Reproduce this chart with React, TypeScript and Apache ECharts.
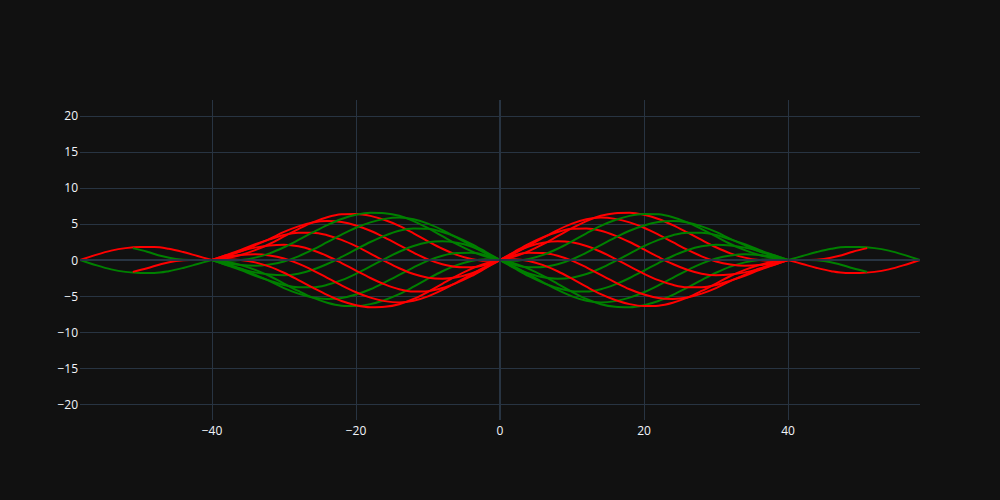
import React, { useEffect, useRef } from "react";
import * as echarts from "echarts";

// x positions
const X_MAIN = [-40, -38, -36, -34, -32, -30, -28, -26, -24, -22, -20, -18, -16, -14, -12, -10, -8, -6, -4, -2, 0,
  2, 4, 6, 8, 10, 12, 14, 16, 18, 20, 22, 24, 26, 28, 30, 32, 34, 36, 38, 40];
const X_OUT_L = [-58.3, -56, -54, -52, -50, -48, -46, -44, -42, -40];
const X_OUT_R = [40, 42, 44, 46, 48, 50, 52, 54, 56, 58.3];
const X_SHORT_L = [-51, -49, -47, -45, -43, -40];
const X_SHORT_R = [40, 43, 45, 47, 49, 51];

// green curves, central part (x = -40 .. 40)
const greenA = [0, -0.24, -0.69, -1.37, -2.22, -3.27, -4.3, -5.23, -5.93, -6.34, -6.4, -6.13, -5.55, -4.74, -3.71, -2.6, -1.56, -0.71, -0.13, 0.12, 0,
  -0.47, -1.24, -2.2, -3.3, -4.42, -5.41, -6.14, -6.5, -6.56, -6.28, -5.7, -4.85, -3.84, -2.78, -1.77, -0.92, -0.33, 0.01, 0.12, 0];
const greenB = [0, -0.54, -1.21, -2.05, -2.93, -3.9, -4.67, -5.21, -5.41, -5.28, -4.8, -4.06, -3.11, -2.08, -1.02, -0.09, 0.6, 0.97, 1.01, 0.67, 0,
  -0.93, -2.01, -3.1, -4.16, -5.05, -5.66, -5.9, -5.71, -5.23, -4.48, -3.53, -2.48, -1.43, -0.51, 0.2, 0.63, 0.8, 0.71, 0.45, 0];
const greenC = [0, -0.69, -1.4, -2.18, -2.86, -3.47, -3.79, -3.79, -3.45, -2.8, -1.92, -0.9, 0.16, 1.15, 1.95, 2.45, 2.6, 2.39, 1.88, 1.05, 0,
  -1.14, -2.25, -3.17, -3.9, -4.33, -4.39, -4.07, -3.39, -2.5, -1.48, -0.42, 0.56, 1.36, 1.9, 2.12, 2.02, 1.72, 1.22, 0.66, 0];
const greenD = [0, -0.66, -1.22, -1.72, -2.02, -2.12, -1.9, -1.36, -0.56, 0.42, 1.48, 2.5, 3.39, 4.07, 4.39, 4.33, 3.9, 3.17, 2.25, 1.14, 0,
  -1.05, -1.88, -2.39, -2.6, -2.45, -1.95, -1.15, -0.16, 0.9, 1.92, 2.8, 3.45, 3.79, 3.79, 3.47, 2.86, 2.18, 1.4, 0.69, 0];
const greenE = [0, -0.45, -0.71, -0.8, -0.63, -0.2, 0.51, 1.43, 2.48, 3.53, 4.48, 5.23, 5.71, 5.9, 5.66, 5.05, 4.16, 3.1, 2.01, 0.93, 0,
  -0.67, -1.01, -0.97, -0.6, 0.09, 1.02, 2.08, 3.11, 4.06, 4.8, 5.28, 5.41, 5.21, 4.67, 3.9, 2.93, 2.05, 1.21, 0.54, 0];
const greenF = [0, -0.12, -0.01, 0.33, 0.92, 1.77, 2.78, 3.84, 4.85, 5.7, 6.28, 6.56, 6.5, 6.14, 5.41, 4.42, 3.3, 2.2, 1.24, 0.47, 0,
  -0.12, 0.13, 0.71, 1.56, 2.6, 3.71, 4.74, 5.55, 6.13, 6.4, 6.34, 5.93, 5.23, 4.3, 3.27, 2.22, 1.37, 0.69, 0.24, 0];

// red curves, central part (x = -40 .. 40)
const redA = [0, 0.24, 0.69, 1.37, 2.22, 3.27, 4.3, 5.23, 5.93, 6.34, 6.4, 6.13, 5.55, 4.74, 3.71, 2.6, 1.56, 0.71, 0.13, -0.12, 0,
  0.47, 1.24, 2.2, 3.3, 4.42, 5.41, 6.14, 6.5, 6.56, 6.28, 5.7, 4.85, 3.84, 2.78, 1.77, 0.92, 0.33, -0.01, -0.12, 0];
const redB = [0, 0.54, 1.21, 2.05, 2.93, 3.9, 4.67, 5.21, 5.41, 5.28, 4.8, 4.06, 3.11, 2.08, 1.02, 0.09, -0.6, -0.97, -1.01, -0.67, 0,
  0.93, 2.01, 3.1, 4.16, 5.05, 5.66, 5.9, 5.71, 5.23, 4.48, 3.53, 2.48, 1.43, 0.51, -0.2, -0.63, -0.8, -0.71, -0.45, 0];
const redC = [0, 0.69, 1.4, 2.18, 2.86, 3.47, 3.79, 3.79, 3.45, 2.8, 1.92, 0.9, -0.16, -1.15, -1.95, -2.45, -2.6, -2.39, -1.88, -1.05, 0,
  1.14, 2.25, 3.17, 3.9, 4.33, 4.39, 4.07, 3.39, 2.5, 1.48, 0.42, -0.56, -1.36, -1.9, -2.12, -2.02, -1.72, -1.22, -0.66, 0];
const redD = [0, 0.66, 1.22, 1.72, 2.02, 2.12, 1.9, 1.36, 0.56, -0.42, -1.48, -2.5, -3.39, -4.07, -4.39, -4.33, -3.9, -3.17, -2.25, -1.14, 0,
  1.05, 1.88, 2.39, 2.6, 2.45, 1.95, 1.15, 0.16, -0.9, -1.92, -2.8, -3.45, -3.79, -3.79, -3.47, -2.86, -2.18, -1.4, -0.69, 0];
const redE = [0, 0.45, 0.71, 0.8, 0.63, 0.2, -0.51, -1.43, -2.48, -3.53, -4.48, -5.23, -5.71, -5.9, -5.66, -5.05, -4.16, -3.1, -2.01, -0.93, 0,
  0.67, 1.01, 0.97, 0.6, -0.09, -1.02, -2.08, -3.11, -4.06, -4.8, -5.28, -5.41, -5.21, -4.67, -3.9, -2.93, -2.05, -1.21, -0.54, 0];
const redF = [0, 0.12, 0.01, -0.33, -0.92, -1.77, -2.78, -3.84, -4.85, -5.7, -6.28, -6.56, -6.5, -6.14, -5.41, -4.42, -3.3, -2.2, -1.24, -0.47, 0,
  0.12, -0.13, -0.71, -1.56, -2.6, -3.71, -4.74, -5.55, -6.13, -6.4, -6.34, -5.93, -5.23, -4.3, -3.27, -2.22, -1.37, -0.69, -0.24, 0];

// outer lobes
const redOuterL = [0, 0.75, 1.3, 1.65, 1.8, 1.8, 1.55, 1.1, 0.55, 0];
const greenOuterL = [0, -0.75, -1.3, -1.65, -1.8, -1.8, -1.55, -1.1, -0.55, 0];
const greenOuterR = [0, 0.55, 1.1, 1.55, 1.8, 1.8, 1.65, 1.3, 0.75, 0];
const redOuterR = [0, -0.55, -1.1, -1.55, -1.8, -1.8, -1.65, -1.3, -0.75, 0];
const greenShortL = [1.65, 1.15, 0.55, 0.15, 0, 0];
const redShortL = [-1.65, -1.15, -0.55, -0.15, 0, 0];
const greenShortR = [0, 0, -0.15, -0.55, -1.15, -1.65];
const redShortR = [0, 0, 0.15, 0.55, 1.15, 1.65];

const X_MIN = -58.33;
const X_MAX = 58.33;
const Y_MIN = -22.22;
const Y_MAX = 22.22;

const GREEN = "#008000";
const RED = "#ff0000";
const GRID = "#283442";
const TEXT = "#f2f5fa";
const FONT = '"Open Sans", verdana, arial, sans-serif';

function pairs(xs: number[], ys: number[]) {
  return xs.map((x, i) => [x, ys[i]]);
}

const curves: { xs: number[]; ys: number[]; color: string }[] = [
  { xs: X_OUT_L, ys: greenOuterL, color: GREEN },
  { xs: X_OUT_L, ys: redOuterL, color: RED },
  { xs: X_SHORT_L, ys: greenShortL, color: GREEN },
  { xs: X_SHORT_L, ys: redShortL, color: RED },
  { xs: X_OUT_R, ys: redOuterR, color: RED },
  { xs: X_OUT_R, ys: greenOuterR, color: GREEN },
  { xs: X_SHORT_R, ys: redShortR, color: RED },
  { xs: X_SHORT_R, ys: greenShortR, color: GREEN },
  { xs: X_MAIN, ys: greenA, color: GREEN },
  { xs: X_MAIN, ys: redA, color: RED },
  { xs: X_MAIN, ys: greenB, color: GREEN },
  { xs: X_MAIN, ys: redB, color: RED },
  { xs: X_MAIN, ys: greenC, color: GREEN },
  { xs: X_MAIN, ys: redC, color: RED },
  { xs: X_MAIN, ys: greenD, color: GREEN },
  { xs: X_MAIN, ys: redD, color: RED },
  { xs: X_MAIN, ys: greenE, color: GREEN },
  { xs: X_MAIN, ys: redE, color: RED },
  { xs: X_MAIN, ys: greenF, color: GREEN },
  { xs: X_MAIN, ys: redF, color: RED },
];

function fmt(v: number) {
  return v < 0 ? "\u2212" + Math.abs(v) : String(v);
}

export default function App() {
  const ref = useRef<HTMLDivElement>(null);
  useEffect(() => {
    document.body.style.margin = "0";
    document.body.style.background = "#111111";
    const chart = echarts.init(ref.current as HTMLDivElement, null, { renderer: "svg" });
    const series: any[] = [
      {
        type: "line",
        data: [],
        z: 1,
        silent: true,
        markLine: {
          silent: true,
          symbol: "none",
          label: { show: false },
          lineStyle: { color: GRID, width: 2, type: "solid" },
          data: [{ yAxis: 0 }, { xAxis: 0 }],
        },
      },
    ];
    curves.forEach((c) => {
      series.push({
        type: "line",
        data: pairs(c.xs, c.ys),
        showSymbol: false,
        smooth: 0.35,
        z: 3,
        lineStyle: { color: c.color, width: 2 },
        itemStyle: { color: c.color },
      });
    });
    chart.setOption({
      animation: false,
      backgroundColor: "#111111",
      grid: { left: 80, right: 80, top: 100, bottom: 80 },
      xAxis: {
        type: "value",
        min: X_MIN,
        max: X_MAX,
        splitNumber: 5,
        axisLine: { show: false },
        axisTick: { show: false },
        axisLabel: {
          color: TEXT,
          fontSize: 12,
          fontFamily: FONT,
          margin: 4,
          showMinLabel: false,
          showMaxLabel: false,
          formatter: fmt,
        },
        splitLine: {
          show: true,
          showMinLine: false,
          showMaxLine: false,
          lineStyle: { color: GRID, width: 1 },
        },
      },
      yAxis: {
        type: "value",
        min: Y_MIN,
        max: Y_MAX,
        splitNumber: 9,
        axisLine: { show: false },
        axisTick: { show: false },
        axisLabel: {
          color: TEXT,
          fontSize: 12,
          fontFamily: FONT,
          margin: 2,
          showMinLabel: false,
          showMaxLabel: false,
          formatter: fmt,
        },
        splitLine: {
          show: true,
          showMinLine: false,
          showMaxLine: false,
          lineStyle: { color: GRID, width: 1 },
        },
      },
      series,
    });
    return () => chart.dispose();
  }, []);
  return <div ref={ref} style={{ width: 1000, height: 500 }} />;
}
